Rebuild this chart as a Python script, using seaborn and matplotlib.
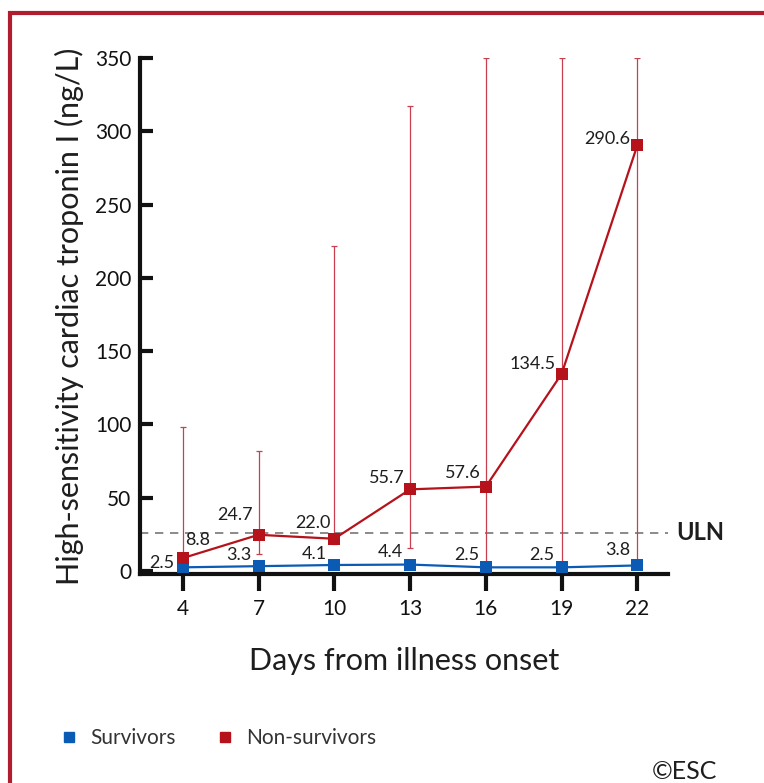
import numpy as np
import pandas as pd
import seaborn as sns
import matplotlib.pyplot as plt
from matplotlib.patches import Rectangle
from matplotlib.lines import Line2D

# chart values
days = [4, 7, 10, 13, 16, 19, 22]
survivors = [2.5, 3.3, 4.1, 4.4, 2.5, 2.5, 3.8]
non_survivors = [8.8, 24.7, 22.0, 55.7, 57.6, 134.5, 290.6]
non_surv_low = [4.5, 11.6, 18.4, 15.7, 5.0, 5.0, 5.0]
non_surv_high = [98.0, 82.0, 222.0, 317.0, 350.0, 350.0, 350.0]
uln = 26.2
y_ticks = [0, 50, 100, 150, 200, 250, 300, 350]

RED = '#B5121B'
BLUE = '#0B5BB5'
BAR_RED = '#C8404E'
INK = '#1E1E1E'

sns.set_style('ticks')
plt.rcParams['font.family'] = ['Lato', 'DejaVu Sans']

df = pd.DataFrame({'day': days, 'surv': survivors, 'nonsurv': non_survivors,
                   'lo': non_surv_low, 'hi': non_surv_high})

fig = plt.figure(figsize=(7.64, 7.83), dpi=100)
ax = fig.add_axes([0.183, 0.267, 0.691, 0.659])

# range bars for non-survivors
ax.errorbar(df['day'], df['nonsurv'],
            yerr=[df['nonsurv'] - df['lo'], df['hi'] - df['nonsurv']],
            fmt='none', ecolor=BAR_RED, elinewidth=0.9, capsize=2.5,
            capthick=0.9, zorder=1)

ax.axhline(uln, color='#777777', lw=1.2, ls=(0, (5, 4)), zorder=0)

sns.lineplot(data=df, x='day', y='surv', color=BLUE, marker='s', markersize=8,
             markeredgewidth=0, lw=1.6, ax=ax, zorder=3)
sns.lineplot(data=df, x='day', y='nonsurv', color=RED, marker='s', markersize=8,
             markeredgewidth=0, lw=1.6, ax=ax, zorder=4)

# value labels
surv_off = [(-6, 3), (-5, 8), (-5, 8), (-5, 9), (-5, 9), (-5, 9), (-5, 11)]
nons_off = [(2, 13), (-4, 14), (-3, 11), (-4, 8), (-4, 10), (-4, 7), (-5, 4)]
for d, v, o in zip(days, survivors, surv_off):
    ax.annotate(f'{v:.1f}', (d, v), xytext=o, textcoords='offset points',
                ha='right', va='center', fontsize=13, color=INK)
for i, (d, v, o) in enumerate(zip(days, non_survivors, nons_off)):
    ax.annotate(f'{v:.1f}', (d, v), xytext=o, textcoords='offset points',
                ha='left' if i == 0 else 'right', va='center', fontsize=13,
                color=INK)

ax.text(23.55, uln, 'ULN', fontsize=17, fontweight='bold', va='center',
        ha='left', color=INK, clip_on=False)

ax.set_xlim(2.3, 23.2)
ax.set_ylim(-2, 350)
ax.set_xticks(days)
ax.set_yticks(y_ticks)
ax.tick_params(axis='x', direction='out', length=12, width=3, labelsize=15,
               colors='#111111', pad=6)
ax.tick_params(axis='y', direction='in', length=9, width=3, labelsize=15,
               colors='#111111', pad=6)
for s in ['left', 'bottom']:
    ax.spines[s].set_linewidth(3)
    ax.spines[s].set_color('#111111')
sns.despine(ax=ax)
ax.set_xlabel('Days from illness onset', fontsize=22, labelpad=20, color=INK)
ax.set_ylabel('High-sensitivity cardiac troponin I (ng/L)', fontsize=22,
              labelpad=8, color=INK)

# legend
handles = [Line2D([], [], ls='none', marker='s', color=BLUE, markersize=7),
           Line2D([], [], ls='none', marker='s', color=RED, markersize=7)]
fig.legend(handles, ['Survivors', 'Non-survivors'], loc='center left',
           bbox_to_anchor=(0.055, 0.057), ncol=2, frameon=False,
           prop={'size': 15},
           handletextpad=0.6, columnspacing=2.0, handlelength=0.8,
           labelcolor='#333333')

fig.text(0.853, 0.0, '©ESC', fontsize=18, ha='left', va='bottom', color=INK)

# framing border
fig.add_artist(Rectangle((0.013, -0.05), 1.2, 1.033, transform=fig.transFigure,
                         fill=False, edgecolor='#B01D2E', lw=3,
                         clip_on=False))

fig.savefig('out.png', dpi=100)
